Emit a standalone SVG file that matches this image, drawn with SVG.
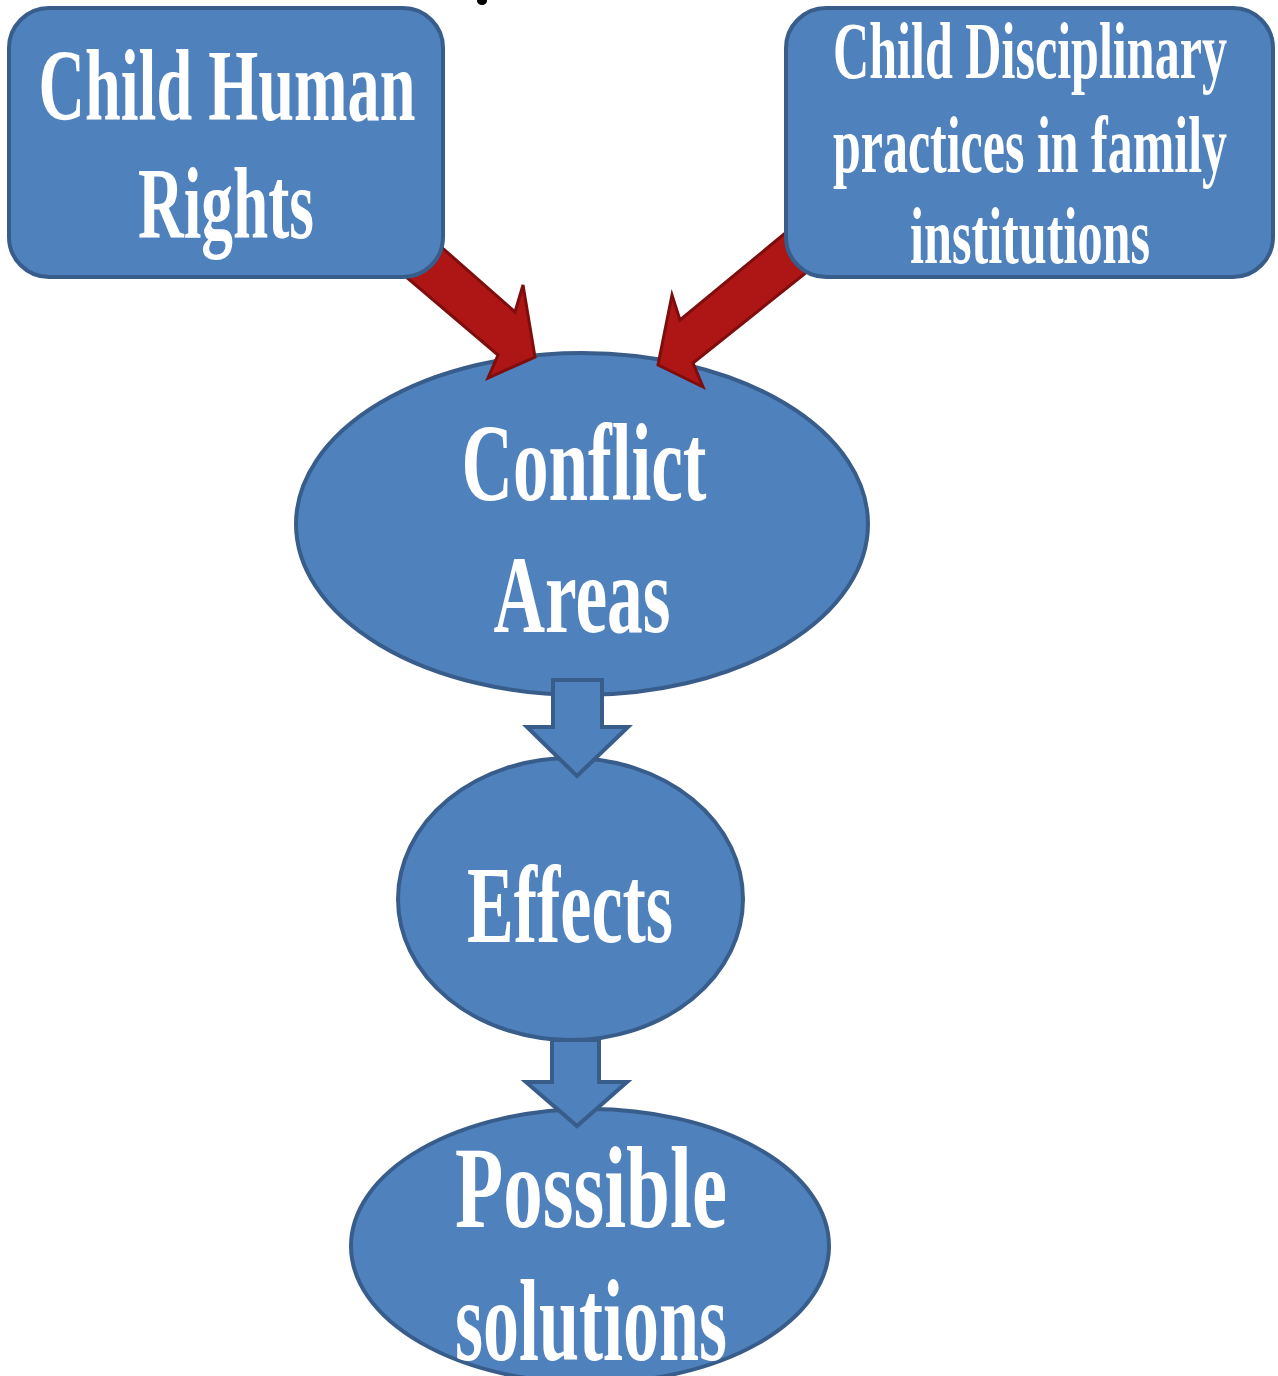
<svg xmlns="http://www.w3.org/2000/svg" width="1278" height="1376" viewBox="0 0 1278 1376">
  <style>
    .shape { fill: #4f81bd; stroke: #385d8a; stroke-width: 4; }
    .red { fill: #ae1515; stroke: #7e0d0d; stroke-width: 3; stroke-linejoin: miter; }
    .block { fill: #4f81bd; stroke: #385d8a; stroke-width: 4; stroke-linejoin: miter; }
    .label { font-family: "Liberation Serif", "Times New Roman", serif; font-weight: bold; fill: #ffffff; text-anchor: middle; }
  </style>
  <rect width="1278" height="1376" fill="#ffffff"/>

  <!-- descender of a heading cut off at the top edge -->
  <ellipse cx="482" cy="1" rx="5" ry="4" fill="#000000"/>

  <g id="node-conflict">
    <ellipse class="shape" cx="582" cy="524" rx="286" ry="171"/>
    <text class="label" x="584" y="500" font-size="110" textLength="245" lengthAdjust="spacingAndGlyphs">Conflict</text>
    <text class="label" x="582" y="632" font-size="110" textLength="177" lengthAdjust="spacingAndGlyphs">Areas</text>
  </g>

  <g id="node-effects">
    <ellipse class="shape" cx="570.5" cy="899" rx="172.5" ry="141"/>
    <text class="label" x="570" y="942" font-size="110" textLength="206" lengthAdjust="spacingAndGlyphs">Effects</text>
  </g>

  <g id="node-solutions">
    <ellipse class="shape" cx="590" cy="1246" rx="239" ry="137"/>
    <text class="label" x="591" y="1227" font-size="116" textLength="272" lengthAdjust="spacingAndGlyphs">Possible</text>
    <text class="label" x="591" y="1360" font-size="116" textLength="272" lengthAdjust="spacingAndGlyphs">solutions</text>
  </g>

  <g id="connectors">
    <!-- red arrow: Child Human Rights to Conflict Areas -->
    <polygon class="red" points="372,248 405,215 515,312 523,285 535,357 488,378 498,355"/>
    <!-- red arrow: Child Disciplinary practices to Conflict Areas -->
    <polygon class="red" points="818,206 842,244 693,363 703,387 658,365 672,295 680,320"/>
    <!-- block arrow: Conflict Areas to Effects -->
    <polygon class="block" points="553,680 602,680 602,727 628,727 577,776 527,727 553,727"/>
    <!-- block arrow: Effects to Possible solutions -->
    <polygon class="block" points="552,1040 599,1040 599,1082 627,1082 577,1126 526,1082 552,1082"/>
  </g>

  <g id="node-rights">
    <rect class="shape" x="9" y="8" width="434" height="269" rx="40" ry="40"/>
    <text class="label" x="227" y="120" font-size="102" textLength="377" lengthAdjust="spacingAndGlyphs">Child Human</text>
    <text class="label" x="226" y="238" font-size="102" textLength="176" lengthAdjust="spacingAndGlyphs">Rights</text>
  </g>

  <g id="node-discipline">
    <rect class="shape" x="786" y="8" width="487" height="269" rx="40" ry="40"/>
    <text class="label" x="1030" y="78" font-size="80" textLength="394" lengthAdjust="spacingAndGlyphs">Child Disciplinary</text>
    <text class="label" x="1030" y="172" font-size="80" textLength="394" lengthAdjust="spacingAndGlyphs">practices in family</text>
    <text class="label" x="1030" y="263" font-size="80" textLength="240" lengthAdjust="spacingAndGlyphs">institutions</text>
  </g>
</svg>
